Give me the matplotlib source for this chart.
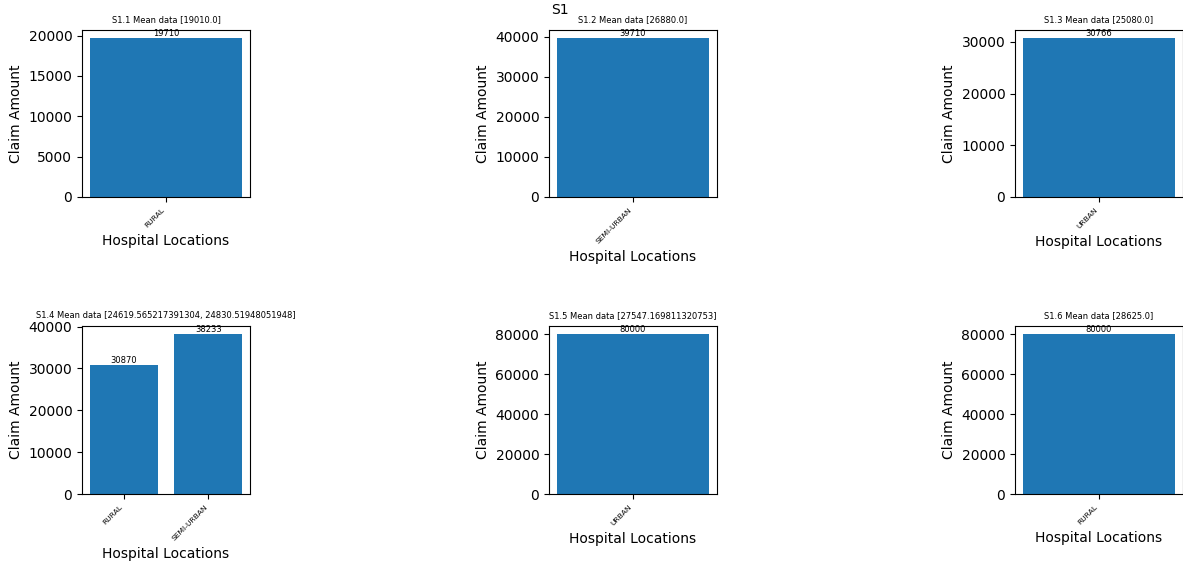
import matplotlib
matplotlib.use("Agg")
import matplotlib.pyplot as plt

titles = ["S1.1 Mean data [19010.0]",
          "S1.2 Mean data [26880.0]",
          "S1.3 Mean data [25080.0]",
          "S1.4 Mean data [24619.565217391304, 24830.51948051948]",
          "S1.5 Mean data [27547.169811320753]",
          "S1.6 Mean data [28625.0]"]
locations = [["RURAL"], ["SEMI-URBAN"], ["URBAN"],
             ["RURAL", "SEMI-URBAN"], ["URBAN"], ["RURAL"]]
claims = [[19710], [39710], [30766],
          [30870, 38233], [80000], [80000]]

W, H = 1183, 564
fig = plt.figure(figsize=(W / 100, H / 100), dpi=100)

# axes boxes in pixels: left, bottom(from top), width, height
lefts = [82, 549, 1015]
boxes = []
for top, h in [(30, 167), (326, 168)]:
    for l in lefts:
        boxes.append((l / W, 1 - (top + h) / H, 168 / W, h / H))

for i in range(6):
    ax = fig.add_axes(boxes[i])
    bars = ax.bar(locations[i], claims[i], color="#1f77b4")
    ax.bar_label(bars, fontsize=6)
    ax.set_title(titles[i], fontsize=6)
    ax.set_xlabel("Hospital Locations")
    ax.set_ylabel("Claim Amount")
    plt.setp(ax.get_xticklabels(), rotation=45, ha="right", fontsize=5.4)

fig.text(560 / W, 1 - 10 / H, "S1", ha="center", va="center", fontsize=10)

fig.savefig("out.png", dpi=100)
